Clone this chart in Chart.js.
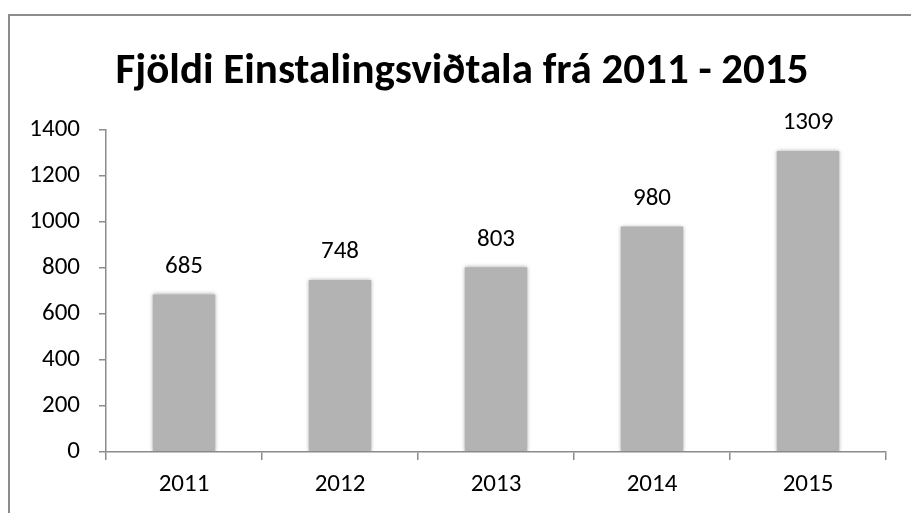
<!DOCTYPE html>
<html>
<head>
<meta charset="utf-8">
<script src="https://cdn.jsdelivr.net/npm/chart.js@4.4.1/dist/chart.umd.min.js"></script>
<style>
  html, body { margin: 0; padding: 0; background: #fff; }
  #wrap { width: 911px; height: 513px; }
</style>
</head>
<body>
<div id="wrap"><canvas id="chart_einstaklings"></canvas></div>
<script>
var years = ['2011', '2012', '2013', '2014', '2015'];
var vidtol = [685, 748, 803, 980, 1309];
var yTicks = [0, 200, 400, 600, 800, 1000, 1200, 1400];
var chartTitle = 'Fjöldi Einstalingsviðtala frá 2011 - 2015';

var FONT = 'Carlito, Lato, "Open Sans", sans-serif';

var chart_einstaklings = new Chart(document.getElementById('chart_einstaklings'), {
    type: 'bar',
    data: {
        labels: years,
        datasets: [
            {
                label: 'Viðtöl',
                data: vidtol,
                backgroundColor: '#b3b3b3',
                borderWidth: 0,
                categoryPercentage: 1.0,
                barPercentage: 0.4
            }
        ]
    },
    options: {
        animation: false,
        responsive: true,
        maintainAspectRatio: false,
        layout: {
            padding: { top: 130, right: 25, bottom: 0, left: 0 }
        },
        plugins: {
            legend: { display: false },
            tooltip: { enabled: false },
            title: { display: false }
        },
        scales: {
            x: {
                grid: {
                    drawOnChartArea: false,
                    drawTicks: true,
                    tickLength: 8,
                    color: '#8c8c8c',
                    lineWidth: 1.5
                },
                border: { display: true, color: '#8c8c8c', width: 1.5 },
                ticks: {
                    color: '#000',
                    font: { family: FONT, size: 25, lineHeight: 1.2 },
                    padding: 10
                },
                afterFit: function(scale) { scale.height = 61; }
            },
            y: {
                min: 0,
                max: 1400,
                afterBuildTicks: function(scale) {
                    scale.ticks = yTicks.map(function(v) { return { value: v }; });
                },
                grid: {
                    drawOnChartArea: false,
                    drawTicks: true,
                    tickLength: 7,
                    color: '#8c8c8c',
                    lineWidth: 1.5
                },
                border: { display: true, color: '#8c8c8c', width: 1.5 },
                ticks: {
                    color: '#000',
                    font: { family: FONT, size: 25 },
                    padding: 19,
                    callback: function(value) { return String(value); }
                },
                afterFit: function(scale) { scale.width = 106; }
            }
        }
    },
    plugins: [{
        id: 'customPlugin',
        beforeDraw: (chart) => {
            const ctx = chart.ctx;
            ctx.save();
            ctx.fillStyle = 'white';
            ctx.fillRect(0, 0, chart.width, chart.height);
            // outer chart border (cut at right/bottom as in the picture)
            ctx.strokeStyle = '#8c8c8c';
            ctx.lineWidth = 2;
            ctx.beginPath();
            ctx.moveTo(9, chart.height + 5);
            ctx.lineTo(9, 15);
            ctx.lineTo(chart.width + 5, 15);
            ctx.stroke();
            // title, centred where Excel put it
            ctx.fillStyle = '#000';
            ctx.font = 'bold 43px ' + FONT;
            ctx.textAlign = 'center';
            ctx.textBaseline = 'alphabetic';
            ctx.fillText(chartTitle, 462, 83);
            ctx.restore();
        },
        beforeDatasetDraw: (chart) => {
            const ctx = chart.ctx;
            ctx.save();
            ctx.shadowColor = 'rgba(0,0,0,0.35)';
            ctx.shadowBlur = 4;
            ctx.shadowOffsetX = 0;
            ctx.shadowOffsetY = 0;
        },
        afterDatasetDraw: (chart) => {
            chart.ctx.restore();
        },
        afterDatasetsDraw: (chart) => {
            const ctx = chart.ctx;
            const meta = chart.getDatasetMeta(0);
            ctx.save();
            ctx.fillStyle = '#000';
            ctx.font = '25px ' + FONT;
            ctx.textAlign = 'center';
            ctx.textBaseline = 'middle';
            meta.data.forEach(function(bar, i) {
                ctx.fillText(String(vidtol[i]), bar.x, bar.y - 28);
            });
            ctx.restore();
        }
    }]
});
</script>
</body>
</html>
